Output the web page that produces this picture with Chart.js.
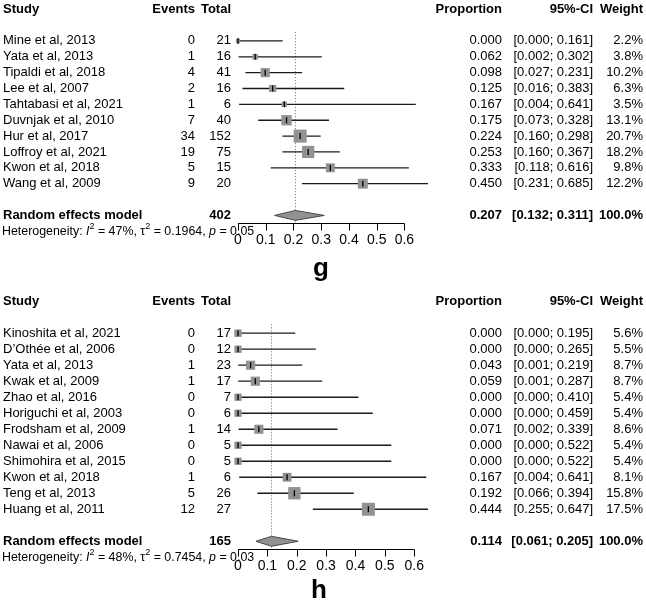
<!DOCTYPE html>
<html>
<head>
<meta charset="utf-8">
<script src="https://cdn.jsdelivr.net/npm/chart.js@4.4.1/dist/chart.umd.min.js"></script>
<style>
    html, body { margin: 0; padding: 0; background: #fff; }
    #wrap { position: relative; width: 646px; height: 606px; }
    canvas { position: absolute; left: 0; }
    #chartG { top: 0; }
    #chartH { top: 292px; }
</style>
</head>
<body>
<div id="wrap">
    <canvas id="chartG" width="646" height="292"></canvas>
    <canvas id="chartH" width="646" height="314"></canvas>
</div>
<script>
// ---- panel g data ----
const studiesG = ['Mine et al, 2013', 'Yata et al, 2013', 'Tipaldi et al, 2018', 'Lee et al, 2007',
    'Tahtabasi et al, 2021', 'Duvnjak et al, 2010', 'Hur et al, 2017', 'Loffroy et al, 2021',
    'Kwon et al, 2018', 'Wang et al, 2009'];
const eventsG = [0, 1, 4, 2, 1, 7, 34, 19, 5, 9];
const totalG = [21, 16, 41, 16, 6, 40, 152, 75, 15, 20];
const propG = [0.000, 0.062, 0.098, 0.125, 0.167, 0.175, 0.224, 0.253, 0.333, 0.450];
const lowerG = [0.000, 0.002, 0.027, 0.016, 0.004, 0.073, 0.160, 0.160, 0.118, 0.231];
const upperG = [0.161, 0.302, 0.231, 0.383, 0.641, 0.328, 0.298, 0.367, 0.616, 0.685];
const weightG = [2.2, 3.8, 10.2, 6.3, 3.5, 13.1, 20.7, 18.2, 9.8, 12.2];
const summaryG = { total: 402, est: 0.207, lower: 0.132, upper: 0.311, i2: '47%', tau2: '0.1964', p: '0.05' };

// ---- panel h data ----
const studiesH = ['Kinoshita et al, 2021', 'D\u2019Oth\u00e9e et al, 2006', 'Yata et al, 2013', 'Kwak et al, 2009',
    'Zhao et al, 2016', 'Horiguchi et al, 2003', 'Frodsham et al, 2009', 'Nawai et al, 2006',
    'Shimohira et al, 2015', 'Kwon et al, 2018', 'Teng et al, 2013', 'Huang et al, 2011'];
const eventsH = [0, 0, 1, 1, 0, 0, 1, 0, 0, 1, 5, 12];
const totalH = [17, 12, 23, 17, 7, 6, 14, 5, 5, 6, 26, 27];
const propH = [0.000, 0.000, 0.043, 0.059, 0.000, 0.000, 0.071, 0.000, 0.000, 0.167, 0.192, 0.444];
const lowerH = [0.000, 0.000, 0.001, 0.001, 0.000, 0.000, 0.002, 0.000, 0.000, 0.004, 0.066, 0.255];
const upperH = [0.195, 0.265, 0.219, 0.287, 0.410, 0.459, 0.339, 0.522, 0.522, 0.641, 0.394, 0.647];
const weightH = [5.6, 5.5, 8.7, 8.7, 5.4, 5.4, 8.6, 5.4, 5.4, 8.1, 15.8, 17.5];
const summaryH = { total: 165, est: 0.114, lower: 0.061, upper: 0.205, i2: '48%', tau2: '0.7454', p: '0.03' };

const xTicks = [0, 0.1, 0.2, 0.3, 0.4, 0.5, 0.6];
const xTickLabels = ['0', '0.1', '0.2', '0.3', '0.4', '0.5', '0.6'];

const FONT = '"Liberation Sans", Arial, Helvetica, sans-serif';
const SQUARE_MAX = 13; // side of the biggest square, px

function makePanel(canvasId, p) {
    const n = p.studies.length;
    const sumRow = n + 1;
    const maxW = Math.max(...p.weight);

    // CI lines, one dataset per study
    const ciSets = p.studies.map((s, i) => ({
        type: 'scatter',
        data: [{ x: p.lower[i], y: i }, { x: p.upper[i], y: i }],
        showLine: true,
        borderColor: '#1a1a1a',
        borderWidth: 1.3,
        pointRadius: 0,
        clip: false,
        order: 3
    }));

    const squares = {
        type: 'scatter',
        data: p.prop.map((v, i) => ({ x: v, y: i })),
        pointStyle: 'rect',
        pointRadius: p.weight.map(w => SQUARE_MAX * Math.sqrt(w / maxW) / Math.SQRT2),
        backgroundColor: '#929292',
        borderColor: '#929292',
        borderWidth: 0,
        clip: false,
        order: 1
    };

    const estTicks = {
        type: 'scatter',
        data: p.prop.map((v, i) => ({ x: v, y: i })),
        pointStyle: 'line',
        rotation: 90,
        pointRadius: 3,
        borderColor: '#000',
        borderWidth: 1.3,
        clip: false,
        order: 0
    };

    const diamond = {
        type: 'scatter',
        data: [
            { x: p.summary.lower, y: sumRow },
            { x: p.summary.est, y: sumRow - 0.31 },
            { x: p.summary.upper, y: sumRow },
            { x: p.summary.est, y: sumRow + 0.31 },
            { x: p.summary.lower, y: sumRow }
        ],
        showLine: true,
        fill: 'shape',
        backgroundColor: '#929292',
        borderColor: '#444',
        borderWidth: 1,
        pointRadius: 0,
        clip: false,
        order: 1
    };

    const refLine = {
        type: 'scatter',
        data: [{ x: p.summary.est, y: -0.55 }, { x: p.summary.est, y: sumRow + 0.5 }],
        showLine: true,
        borderColor: '#666',
        borderWidth: 1,
        borderDash: [1, 2],
        pointRadius: 0,
        clip: false,
        order: 5
    };

    // text columns, axis and panel letter
    const textPlugin = {
        id: 'forestText',
        afterDraw(chart) {
            const ctx = chart.ctx;
            const xs = chart.scales.x;
            const ys = chart.scales.y;
            const rowY = r => ys.getPixelForValue(r);
            ctx.save();
            ctx.fillStyle = '#000';
            ctx.textBaseline = 'middle';

            const put = (txt, x, y, align, bold, size) => {
                ctx.font = (bold ? 'bold ' : '') + (size || 13) + 'px ' + FONT;
                ctx.textAlign = align;
                ctx.fillText(txt, x, y);
            };

            // headers
            const hy = rowY(-2);
            put('Study', 3, hy, 'left', true);
            put('Events', 195, hy, 'right', true);
            put('Total', 231, hy, 'right', true);
            put('Proportion', 502, hy, 'right', true);
            put('95%-CI', 593, hy, 'right', true);
            put('Weight', 643, hy, 'right', true);

            // study rows
            p.studies.forEach((s, i) => {
                const y = rowY(i);
                put(s, 3, y, 'left', false);
                put(String(p.events[i]), 195, y, 'right', false);
                put(String(p.total[i]), 231, y, 'right', false);
                put(p.prop[i].toFixed(3), 502, y, 'right', false);
                put('[' + p.lower[i].toFixed(3) + '; ' + p.upper[i].toFixed(3) + ']', 593, y, 'right', false);
                put(p.weight[i].toFixed(1) + '%', 643, y, 'right', false);
            });

            // summary row
            const sy = rowY(sumRow);
            put('Random effects model', 3, sy, 'left', true);
            put(String(p.summary.total), 231, sy, 'right', true);
            put(p.summary.est.toFixed(3), 502, sy, 'right', true);
            put('[' + p.summary.lower.toFixed(3) + '; ' + p.summary.upper.toFixed(3) + ']', 593, sy, 'right', true);
            put('100.0%', 643, sy, 'right', true);

            // heterogeneity line
            const het = [
                ['Heterogeneity: ', 'n'], ['I', 'i'], ['2', 's'], [' = ' + p.summary.i2 + ', ', 'n'],
                ['\u03c4', 'n'], ['2', 's'], [' = ' + p.summary.tau2 + ', ', 'n'],
                ['p', 'i'], [' = ' + p.summary.p, 'n']
            ];
            let hx = 2;
            const hetY = rowY(sumRow + 1);
            ctx.textAlign = 'left';
            het.forEach(([t, st]) => {
                let yy = hetY;
                if (st === 's') { ctx.font = '9px ' + FONT; yy = hetY - 5; }
                else if (st === 'i') ctx.font = 'italic 12.4px ' + FONT;
                else ctx.font = '12.4px ' + FONT;
                ctx.fillText(t, hx, yy);
                hx += ctx.measureText(t).width;
            });

            // x axis
            const ay = Math.round(rowY(sumRow + 0.5)) + 0.5;
            const x0 = xs.getPixelForValue(xTicks[0]);
            const x1 = xs.getPixelForValue(xTicks[xTicks.length - 1]);
            ctx.strokeStyle = '#000';
            ctx.lineWidth = 1;
            ctx.beginPath();
            ctx.moveTo(x0, ay);
            ctx.lineTo(x1, ay);
            xTicks.forEach(v => {
                const tx = Math.round(xs.getPixelForValue(v)) + 0.5;
                ctx.moveTo(tx, ay);
                ctx.lineTo(tx, ay + 7);
            });
            ctx.stroke();
            xTicks.forEach((v, i) => put(xTickLabels[i], xs.getPixelForValue(v), ay + 17, 'center', false, 14));

            // panel letter
            ctx.font = 'bold 26px ' + FONT;
            ctx.textAlign = 'center';
            ctx.textBaseline = 'alphabetic';
            ctx.fillText(p.letter, p.letterX, p.letterY);
            ctx.restore();
        }
    };

    return new Chart(document.getElementById(canvasId), {
        type: 'scatter',
        data: { datasets: [estTicks, squares, diamond, ...ciSets, refLine] },
        options: {
            responsive: false,
            animation: false,
            events: [],
            layout: { padding: p.padding },
            plugins: { legend: { display: false }, tooltip: { enabled: false } },
            scales: {
                x: { type: 'linear', display: false, min: 0, max: p.xMax },
                y: { type: 'linear', display: false, min: -2, max: p.yMax, reverse: true }
            }
        },
        plugins: [textPlugin]
    });
}

makePanel('chartG', {
    studies: studiesG, events: eventsG, total: totalG, prop: propG,
    lower: lowerG, upper: upperG, weight: weightG, summary: summaryG,
    xMax: 0.685, yMax: 14,
    padding: { left: 238, right: 218, top: 7, bottom: 29 },
    letter: 'g', letterX: 321, letterY: 276
});

makePanel('chartH', {
    studies: studiesH, events: eventsH, total: totalH, prop: propH,
    lower: lowerH, upper: upperH, weight: weightH, summary: summaryH,
    xMax: 0.647, yMax: 16,
    padding: { left: 238, right: 218, top: 7.5, bottom: 16.7 },
    letter: 'h', letterX: 319, letterY: 306
});
</script>
</body>
</html>
